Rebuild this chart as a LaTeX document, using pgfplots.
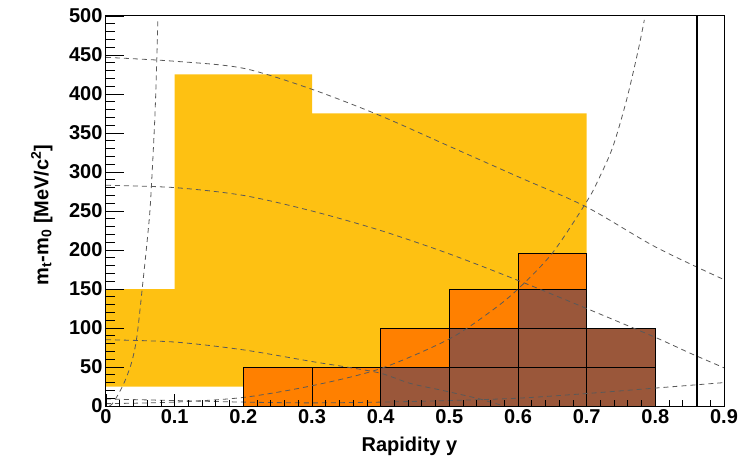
\documentclass[border=0pt]{standalone}
\usepackage{fontspec}
\setmainfont{Liberation Sans}
\usepackage{pgfplots}
\pgfplotsset{compat=1.18}
\definecolor{ryellow}{RGB}{254,193,18}
\definecolor{rorange}{RGB}{255,128,0}
\definecolor{rbrown}{RGB}{154,87,58}
\newcommand{\bigfont}{\fontsize{20}{24}\selectfont\bfseries}
\begin{document}
\begin{tikzpicture}
\path[use as bounding box] (-106pt,-55pt) rectangle (632pt,406pt);
\begin{axis}[
  at={(0,0)}, anchor=south west, scale only axis,
  width=618pt, height=390pt,
  xmin=0, xmax=0.9, ymin=0, ymax=500,
  axis on top,
  xtick={0,0.1,0.2,0.3,0.4,0.5,0.6,0.7,0.8,0.9},
  xticklabels={0,0.1,0.2,0.3,0.4,0.5,0.6,0.7,0.8,0.9},
  xtick style={draw=none},
  ytick={0,50,100,150,200,250,300,350,400,450,500},
  minor y tick num=4,
  ytick pos=left,
  tick align=inside,
  major tick length=18pt, minor tick length=9pt,
  tick style={line width=0.8pt, black},
  axis line style={line width=1pt},
  tick label style={font=\bigfont},
  /pgf/number format/assume math mode=true,
  label style={font=\bigfont},
  xlabel={Rapidity y},
  xlabel style={at={(axis description cs:0.491,0)}, anchor=base, yshift=-45pt},
  ylabel={m\textsubscript{t}-m\textsubscript{0} [MeV/c\textsuperscript{2}]},
  ylabel style={at={(axis description cs:-0.104,0.49)}, anchor=center},
]
% yellow band
\addplot[fill=ryellow, draw=none] coordinates {(0,25) (0,150) (0.1,150) (0.1,425) (0.3,425) (0.3,375) (0.7,375) (0.7,25)} --cycle;
% orange cells
\addplot[fill=rorange, draw=black, line width=0.8pt] coordinates {(0.2,0) (0.3,0) (0.3,50) (0.2,50)} --cycle;
\addplot[fill=rorange, draw=black, line width=0.8pt] coordinates {(0.3,0) (0.4,0) (0.4,50) (0.3,50)} --cycle;
\addplot[fill=rorange, draw=black, line width=0.8pt] coordinates {(0.4,50) (0.5,50) (0.5,100) (0.4,100)} --cycle;
\addplot[fill=rorange, draw=black, line width=0.8pt] coordinates {(0.5,100) (0.6,100) (0.6,150) (0.5,150)} --cycle;
\addplot[fill=rorange, draw=black, line width=0.8pt] coordinates {(0.6,150) (0.7,150) (0.7,196) (0.6,196)} --cycle;
% brown cells
\addplot[fill=rbrown, draw=black, line width=0.8pt] coordinates {(0.4,0) (0.5,0) (0.5,50) (0.4,50)} --cycle;
\addplot[fill=rbrown, draw=black, line width=0.8pt] coordinates {(0.5,0) (0.6,0) (0.6,50) (0.5,50)} --cycle;
\addplot[fill=rbrown, draw=black, line width=0.8pt] coordinates {(0.5,50) (0.6,50) (0.6,100) (0.5,100)} --cycle;
\addplot[fill=rbrown, draw=black, line width=0.8pt] coordinates {(0.6,0) (0.7,0) (0.7,50) (0.6,50)} --cycle;
\addplot[fill=rbrown, draw=black, line width=0.8pt] coordinates {(0.6,50) (0.7,50) (0.7,100) (0.6,100)} --cycle;
\addplot[fill=rbrown, draw=black, line width=0.8pt] coordinates {(0.6,100) (0.7,100) (0.7,150) (0.6,150)} --cycle;
\addplot[fill=rbrown, draw=black, line width=0.8pt] coordinates {(0.7,0) (0.8,0) (0.8,50) (0.7,50)} --cycle;
\addplot[fill=rbrown, draw=black, line width=0.8pt] coordinates {(0.7,50) (0.8,50) (0.8,100) (0.7,100)} --cycle;
% dashed curves
\pgfplotsset{every axis plot/.append style={}}
\addplot[black!65, line width=0.8pt, dash pattern=on 5pt off 4pt, smooth, tension=0.5] coordinates {(0,447) (0.1,442) (0.2,433) (0.3,406) (0.4,372) (0.5,333) (0.6,294) (0.7,255) (0.8,204) (0.9,162)};
\addplot[black!65, line width=0.8pt, dash pattern=on 5pt off 4pt, smooth, tension=0.5] coordinates {(0,283) (0.1,280) (0.2,270) (0.3,250) (0.4,225) (0.5,195) (0.6,161) (0.7,125) (0.8,88) (0.85,68) (0.9,49)};
\addplot[black!65, line width=0.8pt, dash pattern=on 5pt off 4pt, smooth, tension=0.5] coordinates {(0,85) (0.1,82) (0.2,72) (0.3,57) (0.35,50) (0.4,42) (0.443,29) (0.49,20) (0.54,10) (0.56,5) (0.58,0)};
\addplot[black!65, line width=0.8pt, dash pattern=on 5pt off 4pt, smooth, tension=0.5] coordinates {(0,9) (0.1,7) (0.2,5) (0.3,4) (0.4,5) (0.5,7) (0.6,10) (0.7,16) (0.8,23) (0.9,30)};
\addplot[black!65, line width=0.8pt, dash pattern=on 5pt off 4pt, smooth, tension=0.5] coordinates {(0,3) (0.1,5) (0.2,11) (0.3,26) (0.4,48) (0.5,86) (0.563,123) (0.6,150) (0.65,196) (0.7,262) (0.717,290) (0.738,332) (0.758,392) (0.775,456) (0.784,495)};
\addplot[black!65, line width=0.8pt, dash pattern=on 5pt off 4pt, smooth, tension=0.5] coordinates {(0.005,0) (0.011,5) (0.025,27) (0.037,55) (0.045,89) (0.054,161) (0.061,221) (0.065,264) (0.071,367) (0.074,444) (0.0755,495)};
% vertical line
\addplot[black, line width=2pt] coordinates {(0.86,0) (0.86,500)};
\end{axis}
\begin{axis}[
  at={(0,0)}, anchor=south west, scale only axis,
  width=618pt, height=390pt,
  xmin=0, xmax=0.9, ymin=0, ymax=500,
  hide y axis,
  axis line style={draw=none},
  xtick={0,0.1,0.2,0.3,0.4,0.5,0.6,0.7,0.8,0.9},
  xticklabels={},
  minor x tick num=4,
  xtick pos=left,
  tick align=inside,
  major tick length=12pt, minor tick length=6pt,
  tick style={line width=0.8pt, black},
]
\end{axis}
\end{tikzpicture}
\end{document}
